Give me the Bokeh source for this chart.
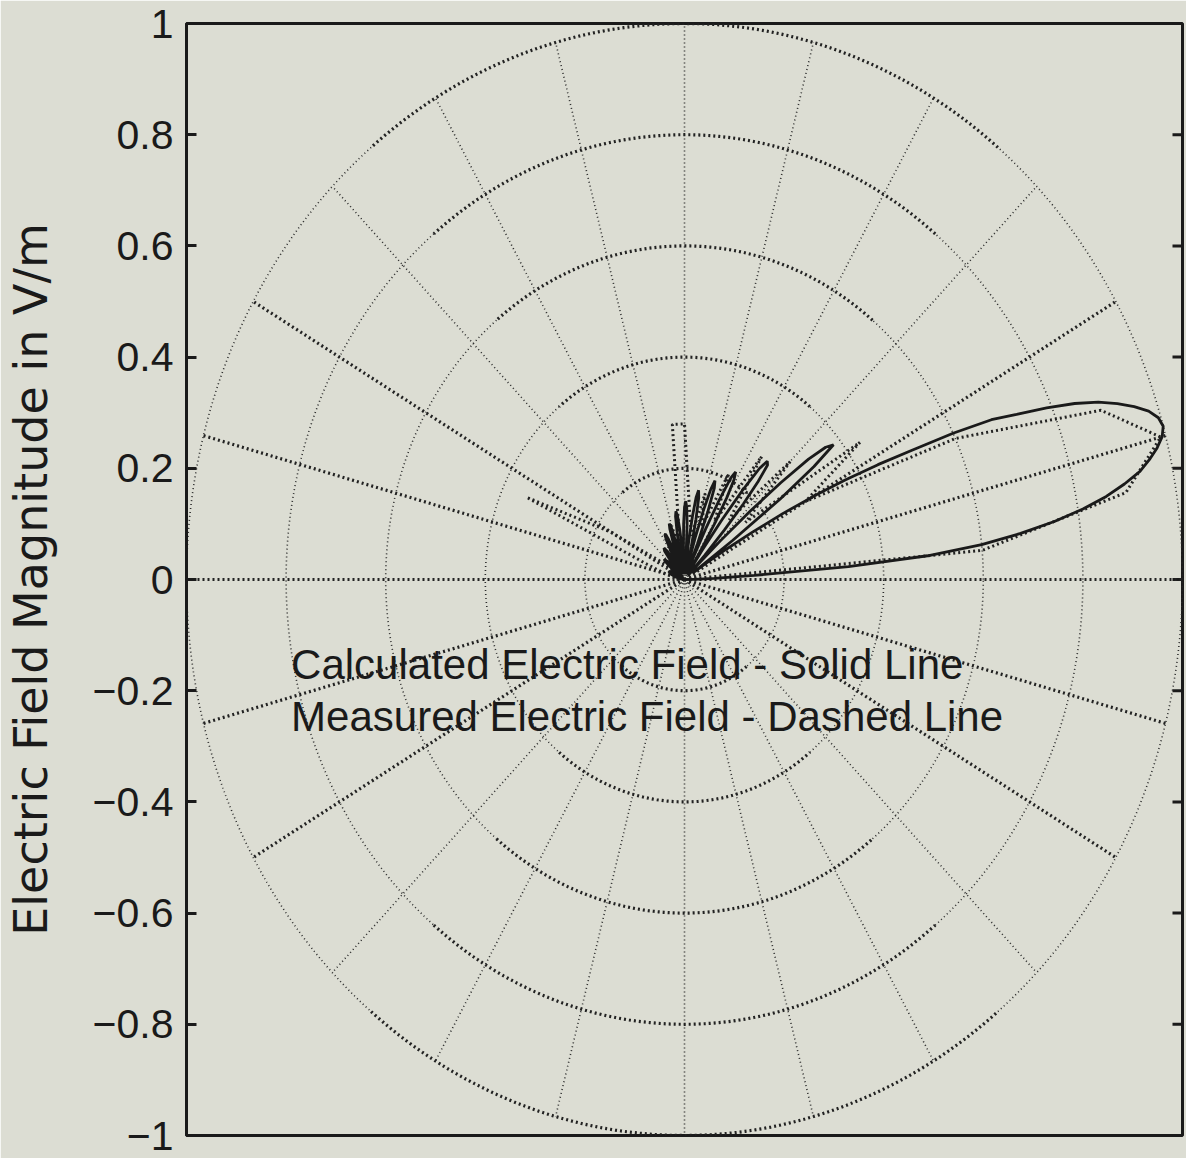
import numpy as np
from bokeh.plotting import figure
from bokeh.models import Range1d, FixedTicker, Label
from bokeh.embed import file_html
from bokeh.resources import INLINE

# ---------------- data ----------------
# calculated field (solid line): angle in degrees, magnitude in V/m
calc_theta = [0, 1, 2, 3, 4, 5, 6, 7, 8, 9, 10, 11, 12, 13, 14, 15, 16, 17, 18, 19,
              20, 21, 22, 23, 24, 25, 26, 27, 28, 29, 30, 31, 32, 33, 34, 35,
              36, 37, 38, 39, 40, 41, 42, 43, 44, 45, 46,
              47, 48, 49, 50, 51, 52, 53, 54, 55, 56, 57,
              58, 59, 60, 61, 62, 63, 64, 65, 66, 67,
              68, 69, 70, 71, 72, 73, 74, 75, 76,
              77, 78, 79, 80, 81, 82, 83, 84, 85,
              86, 87, 88, 89, 90, 91, 92, 93, 94,
              95, 96, 97, 98, 99, 100, 101, 102,
              103, 104, 105, 106, 107, 108, 109, 110, 111,
              112, 113, 114, 115, 116, 117, 118, 119, 120,
              122, 124, 126, 128, 130, 132,
              134, 136, 138, 140, 142, 144, 146,
              150, 155, 160, 165, 170, 175, 180]
calc_r = [0.0, 0.02, 0.06, 0.14, 0.33, 0.49, 0.60, 0.68, 0.75, 0.81, 0.86, 0.90, 0.935, 0.958, 0.978, 0.993, 1.0, 0.995, 0.98, 0.955,
          0.925, 0.89, 0.845, 0.79, 0.73, 0.68, 0.60, 0.51, 0.44, 0.37, 0.30, 0.23, 0.16, 0.10, 0.05, 0.02,
          0.12, 0.24, 0.33, 0.385, 0.37, 0.33, 0.26, 0.18, 0.10, 0.04, 0.01,
          0.06, 0.12, 0.18, 0.23, 0.265, 0.27, 0.25, 0.20, 0.13, 0.06, 0.01,
          0.06, 0.12, 0.17, 0.205, 0.219, 0.205, 0.16, 0.10, 0.04, 0.01,
          0.07, 0.13, 0.175, 0.188, 0.17, 0.13, 0.08, 0.03, 0.01,
          0.06, 0.11, 0.15, 0.163, 0.15, 0.115, 0.07, 0.025, 0.01,
          0.05, 0.10, 0.13, 0.141, 0.13, 0.10, 0.06, 0.02, 0.01,
          0.05, 0.09, 0.115, 0.124, 0.115, 0.085, 0.05, 0.015,
          0.02, 0.05, 0.08, 0.10, 0.105, 0.095, 0.07, 0.04, 0.01,
          0.03, 0.06, 0.08, 0.09, 0.09, 0.08, 0.06, 0.035, 0.01,
          0.03, 0.06, 0.07, 0.065, 0.04, 0.005,
          0.025, 0.045, 0.055, 0.05, 0.035, 0.015, 0.0,
          0.025, 0.035, 0.03, 0.02, 0.01, 0.005, 0.0]

# measured field (dashed line)
meas_theta = [0, 5, 10, 15, 20, 25, 30, 35, 40, 45, 50, 55, 60, 65, 70, 75, 80, 85,
              90, 95, 100, 105, 110, 115, 120, 125, 130, 135, 140, 145, 150, 155, 160,
              165, 170, 175, 180]
meas_r = [0.0, 0.60, 0.90, 0.99, 0.89, 0.60, 0.28, 0.43, 0.16, 0.30, 0.14, 0.27, 0.12, 0.21, 0.10, 0.16, 0.08, 0.12,
          0.28, 0.28, 0.05, 0.10, 0.04, 0.06, 0.03, 0.05, 0.03, 0.04, 0.02, 0.05, 0.17, 0.35, 0.08,
          0.04, 0.02, 0.02, 0.01]

y_ticks = [-1.0, -0.8, -0.6, -0.4, -0.2, 0.0, 0.2, 0.4, 0.6, 0.8, 1.0]
y_tick_labels = ["\u22121", "\u22120.8", "\u22120.6", "\u22120.4", "\u22120.2", "0",
                 "0.2", "0.4", "0.6", "0.8", "1"]
grid_radii = [0.2, 0.4, 0.6, 0.8, 1.0]
spoke_angles = list(range(0, 360, 15))

y_label = "Electric Field Magnitude in V/m"
note_lines = ["Calculated Electric Field - Solid Line",
              "Measured Electric Field - Dashed Line"]

# ---------------- layout ----------------
BG = "#dcddd3"
INK = "#1a1a1a"
FW, FH = 996, 1112
XPX, YPX = FW / 2.0, FH / 2.0

p = figure(frame_width=FW, frame_height=FH,
           x_range=Range1d(-1, 1), y_range=Range1d(-1, 1),
           output_backend="svg", toolbar_location=None,
           min_border_left=186, min_border_top=23, min_border_right=4, min_border_bottom=23,
           background_fill_color=BG, border_fill_color=BG)
p.grid.visible = False
p.xaxis.visible = False
p.outline_line_color = INK
p.outline_line_width = 3

yax = p.yaxis[0]
yax.ticker = FixedTicker(ticks=y_ticks)
yax.major_label_overrides = {t: s for t, s in zip(y_ticks, y_tick_labels)}
yax.major_label_text_font = "Liberation Sans"
yax.major_label_text_font_size = "41px"
yax.major_label_text_color = INK
yax.major_label_standoff = 13
yax.major_tick_in = 10
yax.major_tick_out = 0
yax.major_tick_line_width = 3
yax.major_tick_line_color = INK
yax.minor_tick_line_color = None
yax.axis_line_color = INK
yax.axis_line_width = 3
yax.axis_label = y_label
yax.axis_label_text_font = "DejaVu Sans"
yax.axis_label_text_font_size = "46px"
yax.axis_label_text_font_style = "normal"
yax.axis_label_text_color = INK
yax.axis_label_standoff = 32

# inward ticks on the right edge of the frame (same y ticks)
tick_len = 10.0 / XPX
p.segment(x0=[1.0] * len(y_ticks), y0=y_ticks, x1=[1.0 - tick_len] * len(y_ticks), y1=y_ticks,
          line_color=INK, line_width=3)

# ---------------- polar grid ----------------
def is_heavy(dx, dy):
    sx, sy = abs(dx) * XPX, abs(dy) * YPX
    return np.degrees(np.arctan2(sy, sx)) < 42

heavy_xs, heavy_ys, thin_xs, thin_ys = [], [], [], []
for r in grid_radii:
    phis = np.radians(np.arange(0, 361, 1.0))
    runs = []
    cur = None
    for i in range(len(phis) - 1):
        a, b = phis[i], phis[i + 1]
        m = 0.5 * (a + b)
        h = is_heavy(-np.sin(m), np.cos(m))
        if cur is None or cur[0] != h:
            cur = [h, [a]]
            runs.append(cur)
        cur[1].append(b)
    for h, seg in runs:
        seg = np.array(seg)
        xs = list(r * np.cos(seg)); ys = list(r * np.sin(seg))
        if h:
            heavy_xs.append(xs); heavy_ys.append(ys)
        else:
            thin_xs.append(xs); thin_ys.append(ys)

for a in spoke_angles:
    t = np.radians(a)
    xs = [0.0, float(np.cos(t))]; ys = [0.0, float(np.sin(t))]
    if is_heavy(np.cos(t), np.sin(t)):
        heavy_xs.append(xs); heavy_ys.append(ys)
    else:
        thin_xs.append(xs); thin_ys.append(ys)

p.multi_line(thin_xs, thin_ys, line_color="#2c2c2c", line_width=1.6, line_dash="1 3")
p.multi_line(heavy_xs, heavy_ys, line_color="#222222", line_width=3.2, line_dash="2 3")

# ---------------- curves ----------------
mt = np.radians(meas_theta)
p.line(np.array(meas_r) * np.cos(mt), np.array(meas_r) * np.sin(mt),
       line_color="#222222", line_width=3, line_dash="2 3")
ct = np.radians(calc_theta)
p.line(np.array(calc_r) * np.cos(ct), np.array(calc_r) * np.sin(ct),
       line_color=INK, line_width=2.8)

# ---------------- annotation ----------------
for txt, yy in zip(note_lines, [-0.153, -0.246]):
    p.add_layout(Label(x=-0.79, y=yy, text=txt, text_font="Liberation Sans",
                       text_font_size="42px", text_color=INK, text_baseline="alphabetic"))

open("out.html", "w").write(file_html(p, INLINE))
